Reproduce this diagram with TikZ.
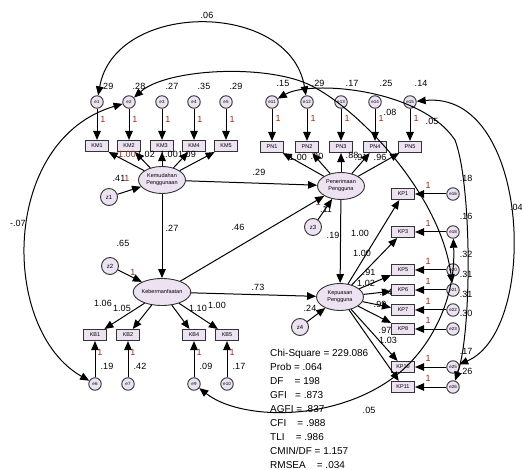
\documentclass[tikz,border=0pt]{standalone}
\usepackage{fontspec}
\setmainfont{Liberation Sans}
\usetikzlibrary{arrows.meta,shapes.geometric}
\definecolor{lav}{RGB}{236,226,242}
\definecolor{onec}{RGB}{150,45,25}
\begin{document}
\begin{tikzpicture}[x=1pt,y=-1pt,
 obs/.style={draw=black!80,line width=1.1pt,fill=lav,minimum width=23pt,minimum height=11pt,inner sep=0pt,font=\fontsize{5.5}{6}\selectfont},
 lat/.style={ellipse,draw=black!80,line width=0.9pt,fill=lav,minimum width=47pt,minimum height=27pt,inner sep=0pt,align=center,font=\fontsize{5.5}{7}\selectfont},
 err/.style={circle,draw=black!80,line width=0.9pt,fill=lav,minimum size=12.5pt,inner sep=0pt,font=\fontsize{4.5}{4.5}\selectfont},
 dist/.style={circle,draw=black!80,line width=0.9pt,fill=lav,minimum size=17pt,inner sep=0pt,font=\fontsize{6}{6}\selectfont},
 arr/.style={-{Triangle[length=9pt,width=7.5pt]},line width=1pt},
 cov/.style={{Triangle[length=9pt,width=7.5pt]}-{Triangle[length=9pt,width=7.5pt]},line width=1pt},
 lb/.style={font=\fontsize{9}{9}\selectfont,inner sep=0pt},
 one/.style={lb,text=onec},
]
\useasboundingbox (0,0) rectangle (522,470);

% latent variables
\node[lat] (Kemud) at (162,180) {Kemudahan\\Penggunaan};
\node[lat] (Penr) at (341,186) {Penerimaan\\Pengguna};
\node[lat] (Keber) at (162,292) {Kebermanfaatan};
\node[lat] (Kepu) at (340,297) {Kepuasan\\Pengguna};

% disturbances
\node[dist] (z1) at (109,197) {z1};
\node[dist] (z2) at (110,266) {z2};
\node[dist] (z3) at (313,227) {z3};
\node[dist] (z4) at (300,327) {z4};
\draw[arr] (z1) -- (Kemud);
\draw[arr] (z2) -- (Keber);
\draw[arr] (z3) -- (Penr);
\draw[arr] (z4) -- (Kepu);
\node[lb] at (119,178) {.41};
\node[one] at (127,178) {1};
\node[lb] at (123,243) {.65};
\node[one] at (133,272) {1};
\node[one] at (318,202) {1};
\node[lb] at (326,209) {.11};
\node[lb] at (310,308) {.24};

% KM block
\foreach \i/\x/\v in {1/97/.29,2/129/.28,3/162/.27,4/194/.35,5/226/.29}{
 \node[obs] (KM\i) at (\x,146) {KM\i};
 \node[err] (e\i) at (\x,102) {e\i};
 \draw[arr] (e\i) -- (KM\i);
 \draw[arr] (Kemud) -- (KM\i);
 \node[one] at (\x+6,119) {1};
 \node[lb] at (\x+10,86) {\v};
}
\node[one] at (127,154) {1.00};
\node[lb] at (146,154) {1.02};
\node[lb] at (169,154) {1.00};
\node[lb] at (187,154) {1.09};

% PN block
\foreach \i/\x/\v in {1/272/.15,2/307/.29,3/341/.17,4/375/.25,5/410/.14}{
 \node[obs] (PN\i) at (\x,147) {PN\i};
 \node[err] (e1\i) at (\x,102) {e1\i};
 \draw[arr] (e1\i) -- (PN\i);
 \draw[arr] (Penr) -- (PN\i);
 \node[one] at (\x+6,118) {1};
 \node[lb] at (\x+11,83) {\v};
}
\node[lb] at (298,157) {1.00};
\node[lb] at (317,156) {.80};
\node[lb] at (352,155) {.88};
\node[lb] at (361,157) {.91};
\node[lb] at (380,157) {.96};

% KB block
\foreach \i/\e/\x/\v in {1/6/95/.19,2/7/128/.42,4/9/194/.09,5/10/227/.17}{
 \node[obs] (KB\i) at (\x,335) {KB\i};
 \node[err] (e\e) at (\x,384) {e\e};
 \draw[arr] (e\e) -- (KB\i);
 \draw[arr] (Keber) -- (KB\i);
 \node[one] at (\x+5,352) {1};
 \node[lb] at (\x+12,366) {\v};
}
\node[lb] at (103,303) {1.06};
\node[lb] at (122,308) {1.05};
\node[lb] at (198,308) {1.10};
\node[lb] at (217,305) {1.00};

% KP block
\foreach \i/\y/\e/\v in {1/194/16/.18,3/232/18/.16,5/270/20/.32,6/290/21/.31,7/310/22/.31,8/329/23/.30,10/367/25/.17,11/387/26/.26}{
 \node[obs] (KP\i) at (403,\y) {KP\i};
 \node[err] (e\e) at (453,\y) {e\e};
 \draw[arr] (e\e) -- (KP\i);
 \draw[arr] (Kepu) -- (KP\i);
 \node[one] at (428,\y-9) {1};
 \node[lb] at (466,\y-16) {\v};
}
\node[lb] at (360,233) {1.00};
\node[lb] at (362,253) {1.00};
\node[lb] at (369,272) {.91};
\node[lb] at (366,283) {1.02};
\node[lb] at (386,292) {.94};
\node[lb] at (380,304) {.99};
\node[lb] at (385,330) {.97};
\node[lb] at (388,340) {1.03};

% structural paths
\draw[arr] (Kemud) -- (Penr);
\draw[arr] (Kemud) -- (Keber);
\draw[arr] (Keber) -- (Penr);
\draw[arr] (Keber) -- (Kepu);
\draw[arr] (Penr) -- (Kepu);
\node[lb] at (259,172) {.29};
\node[lb] at (172,228) {.27};
\node[lb] at (238,227) {.46};
\node[lb] at (258,287) {.73};
\node[lb] at (333,235) {.19};

% covariances
\draw[cov] (e1) .. controls (115,0) and (290,0) .. (e12);
\draw[cov] (e2) .. controls (0,140) and (0,330) .. (e6);
\draw[cov] (e2) .. controls (165,70) and (255,64) .. (303,82) .. controls (350,100) and (440,190) .. (e21);
\draw[cov] (e11) .. controls (310,80) and (420,88) .. (455,140) .. controls (472,185) and (472,330) .. (e26);
\draw[cov] (e15) .. controls (530,90) and (540,330) .. (e25);
\draw[cov] (e9) .. controls (240,420) and (330,422) .. (390,380) .. controls (430,352) and (456,300) .. (e18);
\node[lb] at (207,15) {.06};
\node[lb] at (18,223) {-.07};
\node[lb] at (390,112) {.08};
\node[lb] at (432,121) {.05};
\node[lb,anchor=west] at (510,207) {.04};
\node[lb] at (369,410) {.05};

% fit statistics
\node[anchor=north west,align=left,inner sep=0pt,font=\fontsize{10}{14}\selectfont] (stats) at (270,349)
 {Chi-Square = 229.086\\
  Prob = .064\\
  DF\ \ \ \ = 198\\
  GFI\ \ \ = .873\\
  AGFI = .837\\
  CFI\ \ \ \ = .988\\
  TLI\ \ \ \ = .986\\
  CMIN/DF = 1.157\\
  RMSEA\ \ \ \ = .034};
\end{tikzpicture}
\end{document}
